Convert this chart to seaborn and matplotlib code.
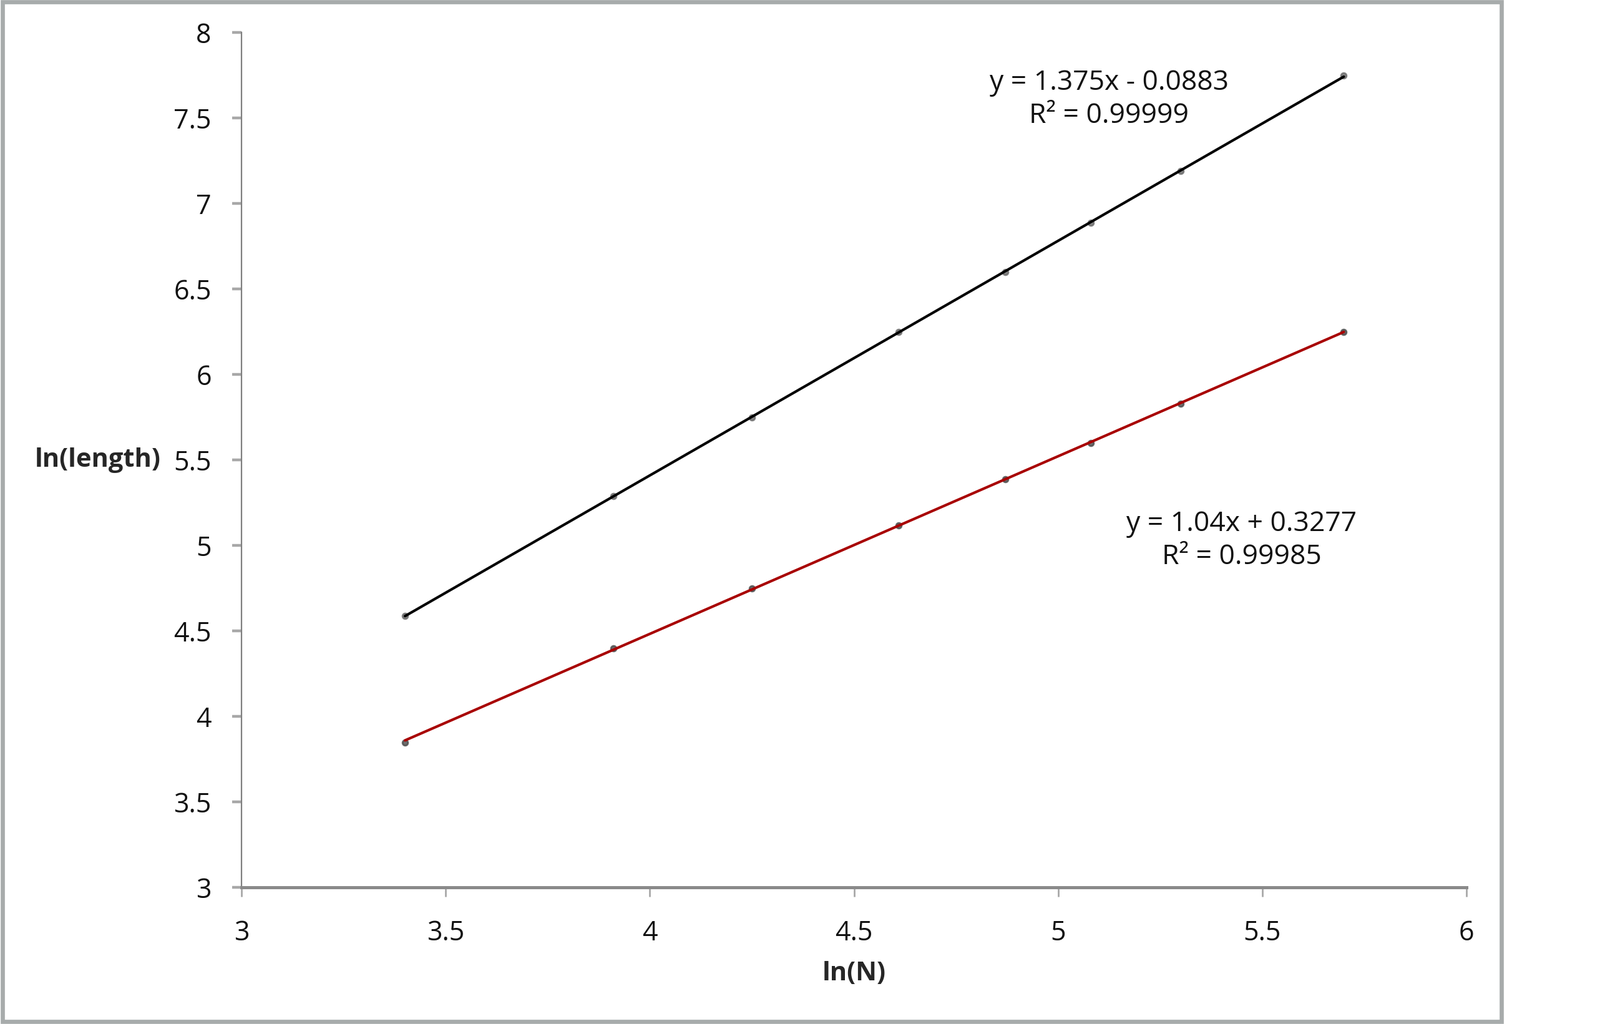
import numpy as np
import pandas as pd
import seaborn as sns
import matplotlib.pyplot as plt
from matplotlib.patches import Rectangle
from matplotlib.ticker import FuncFormatter

# values
ln_n = [3.40, 3.91, 4.25, 4.61, 4.87, 5.08, 5.30, 5.70]
ln_len_black = [4.59, 5.29, 5.75, 6.25, 6.60, 6.89, 7.19, 7.75]
ln_len_red = [3.85, 4.40, 4.75, 5.12, 5.39, 5.60, 5.83, 6.25]
eq_black = 'y = 1.375x - 0.0883\nR² = 0.99999'
eq_red = 'y = 1.04x + 0.3277\nR² = 0.99985'

df = pd.DataFrame({'lnN': ln_n, 'black': ln_len_black, 'red': ln_len_red})

sns.set_style('white')
plt.rcParams['font.family'] = ['Open Sans', 'DejaVu Sans']

fig = plt.figure(figsize=(12.82, 8.205), dpi=200)
ax = fig.add_axes([0.1511, 0.1332, 0.7653, 0.8349])

# series with linear trendlines
sns.regplot(data=df, x='lnN', y='black', ax=ax, ci=None, color='black',
            scatter_kws={'s': 10, 'color': '#6a6a6a', 'zorder': 2},
            line_kws={'lw': 1.5, 'zorder': 3})
sns.regplot(data=df, x='lnN', y='red', ax=ax, ci=None, color='#a80000',
            scatter_kws={'s': 10, 'color': '#4a4a4a', 'zorder': 2},
            line_kws={'lw': 1.5, 'zorder': 3})

ax.set_xlim(3, 6)
ax.set_ylim(3, 8)
ax.set_xticks(np.arange(3, 6.01, 0.5))
ax.set_yticks(np.arange(3, 8.01, 0.5))
fmt = FuncFormatter(lambda v, p: '{:g}'.format(v))
ax.xaxis.set_major_formatter(fmt)
ax.yaxis.set_major_formatter(fmt)

for s in ['top', 'right']:
    ax.spines[s].set_visible(False)
ax.spines['left'].set_color('#7f7f7f')
ax.spines['left'].set_linewidth(0.8)
ax.spines['bottom'].set_color('#8a8a8a')
ax.spines['bottom'].set_linewidth(1.8)

ax.tick_params(axis='x', direction='out', length=5.5, width=1, color='#a8a8a8',
               pad=13, labelsize=15.5, bottom=True, labelcolor='#111111')
ax.tick_params(axis='y', direction='out', length=5.5, width=1.6, color='#a8a8a8',
               pad=12, labelsize=15.5, left=True, labelcolor='#111111')

ax.set_xlabel('ln(N)', fontsize=15, fontweight='bold', va='center')
ax.xaxis.set_label_coords(0.5, -0.101)
ax.set_ylabel('ln(length)', fontsize=15, fontweight='bold', rotation=0,
              ha='right', va='center')
ax.yaxis.set_label_coords(-0.066, 0.5)

ax.text(5.125, 7.61, eq_black, ha='center', va='center', fontsize=16,
        linespacing=1.25, color='#111111')
ax.text(5.45, 5.03, eq_red, ha='center', va='center', fontsize=16,
        linespacing=1.25, color='#111111')

# outer chart border like the Excel chart area
fig.patches.append(Rectangle((0.0015, 0.0025), 0.937, 0.9955,
                             transform=fig.transFigure, fill=False,
                             edgecolor='#a7abab', lw=2.4))

fig.savefig('out.png', dpi=200)
